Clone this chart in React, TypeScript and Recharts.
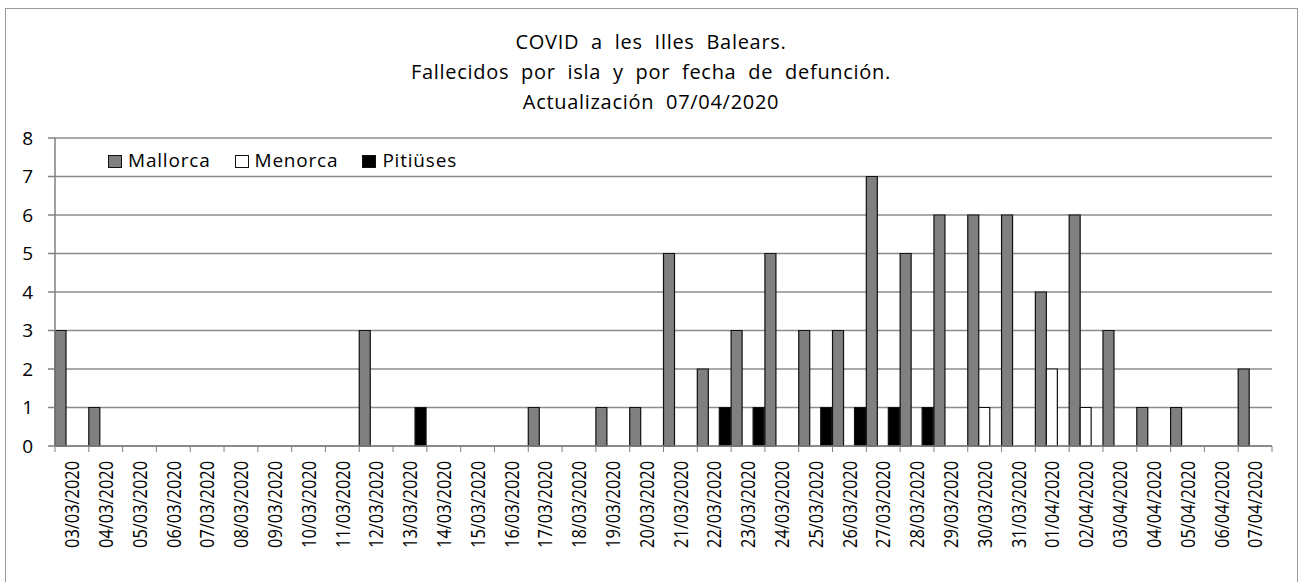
import { BarChart, Bar, XAxis, YAxis, CartesianGrid } from "recharts";

const dates = [
  "03/03/2020", "04/03/2020", "05/03/2020", "06/03/2020", "07/03/2020", "08/03/2020",
  "09/03/2020", "10/03/2020", "11/03/2020", "12/03/2020", "13/03/2020", "14/03/2020",
  "15/03/2020", "16/03/2020", "17/03/2020", "18/03/2020", "19/03/2020", "20/03/2020",
  "21/03/2020", "22/03/2020", "23/03/2020", "24/03/2020", "25/03/2020", "26/03/2020",
  "27/03/2020", "28/03/2020", "29/03/2020", "30/03/2020", "31/03/2020", "01/04/2020",
  "02/04/2020", "03/04/2020", "04/04/2020", "05/04/2020", "06/04/2020", "07/04/2020",
];
const mallorca = [3, 1, 0, 0, 0, 0, 0, 0, 0, 3, 0, 0, 0, 0, 1, 0, 1, 1, 5, 2, 3, 5, 3, 3, 7, 5, 6, 6, 6, 4, 6, 3, 1, 1, 0, 2];
const menorca = [0, 0, 0, 0, 0, 0, 0, 0, 0, 0, 0, 0, 0, 0, 0, 0, 0, 0, 0, 0, 0, 0, 0, 0, 0, 0, 0, 1, 0, 2, 1, 0, 0, 0, 0, 0];
const pitiuses = [0, 0, 0, 0, 0, 0, 0, 0, 0, 0, 1, 0, 0, 0, 0, 0, 0, 0, 0, 1, 1, 0, 1, 1, 1, 1, 0, 0, 0, 0, 0, 0, 0, 0, 0, 0];
const yTicks = [0, 1, 2, 3, 4, 5, 6, 7, 8];
const titleLines = [
  "COVID a les Illes Balears.",
  "Fallecidos por isla y por fecha de defunción.",
  "Actualización 07/04/2020",
];

const series = [
  { key: "mallorca", name: "Mallorca", fill: "#808080" },
  { key: "menorca", name: "Menorca", fill: "#ffffff" },
  { key: "pitiuses", name: "Pitiüses", fill: "#000000" },
];

const data = dates.map((d, i) => ({
  date: d,
  mallorca: mallorca[i],
  menorca: menorca[i],
  pitiuses: pitiuses[i],
}));

const W = 1302;
const H = 582;
const LEFT = 55;
const RIGHT = 30;
const TOP = 138;
const XH = 136;
const BOTTOM = H - XH;
const band = (W - LEFT - RIGHT) / dates.length;
const font = "'Open Sans', sans-serif";

const XTick = (props: any) => {
  const { x, payload, index } = props;
  return (
    <g>
      <line x1={x - band / 2} x2={x - band / 2} y1={BOTTOM} y2={BOTTOM + 6} stroke="#808080" />
      {index === dates.length - 1 && (
        <line x1={x + band / 2} x2={x + band / 2} y1={BOTTOM} y2={BOTTOM + 6} stroke="#808080" />
      )}
      <text
        transform={`translate(${x},${BOTTOM + 15}) rotate(-90) scale(0.82,1)`}
        textAnchor="end"
        dy="0.36em"
        fontSize={20}
        fontFamily={font}
        fill="#000"
      >
        {payload.value}
      </text>
    </g>
  );
};

export default function App() {
  return (
    <div
      style={{
        position: "absolute",
        left: 0,
        top: 0,
        width: W,
        height: H,
        overflow: "hidden",
        background: "#fff",
        fontFamily: font,
      }}
    >
      <div
        style={{
          position: "absolute",
          left: 5,
          top: 8,
          width: 1291,
          height: 620,
          border: "1.5px solid #9a9a9a",
        }}
      />
      <div
        style={{
          position: "absolute",
          left: 0,
          top: 27,
          width: W,
          textAlign: "center",
          fontSize: 20,
          lineHeight: "30px",
          letterSpacing: 0.7,
          wordSpacing: 6,
          color: "#000",
        }}
      >
        {titleLines.map((t) => (
          <div key={t}>{t}</div>
        ))}
      </div>
      <BarChart
        width={W}
        height={H}
        data={data}
        margin={{ top: TOP, right: RIGHT, bottom: 0, left: 0 }}
        barCategoryGap={0}
        barGap={0}
        style={{ position: "absolute", left: 0, top: 0 }}
      >
        <CartesianGrid vertical={false} stroke="#8c8c8c" strokeWidth={1.5} />
        <XAxis
          dataKey="date"
          interval={0}
          height={XH}
          tickLine={false}
          axisLine={{ stroke: "#808080", strokeWidth: 1.5 }}
          tick={(p: any) => <XTick {...p} />}
        />
        <YAxis
          width={LEFT}
          domain={[0, 8]}
          ticks={yTicks}
          interval={0}
          tickSize={7}
          tickMargin={15}
          axisLine={{ stroke: "#808080", strokeWidth: 1.5 }}
          tickLine={{ stroke: "#808080", strokeWidth: 1.5 }}
          tick={{ fill: "#000", fontSize: 19, fontFamily: font }}
        />
        {series.map((s) => (
          <Bar
            key={s.key}
            dataKey={s.key}
            name={s.name}
            fill={s.fill}
            stroke="#111"
            strokeWidth={1.2}
            isAnimationActive={false}
          />
        ))}
      </BarChart>
      <div
        style={{
          position: "absolute",
          left: 108,
          top: 150,
          display: "flex",
          fontSize: 19,
          lineHeight: "20px",
          letterSpacing: 0.8,
          color: "#000",
        }}
      >
        {series.map((s) => (
          <div key={s.key} style={{ display: "flex", alignItems: "center", marginRight: 24 }}>
            <span
              style={{
                display: "inline-block",
                width: 12,
                height: 11,
                background: s.fill,
                border: "1.5px solid #111",
                marginRight: 6,
                marginTop: 2,
              }}
            />
            <span>{s.name}</span>
          </div>
        ))}
      </div>
    </div>
  );
}
